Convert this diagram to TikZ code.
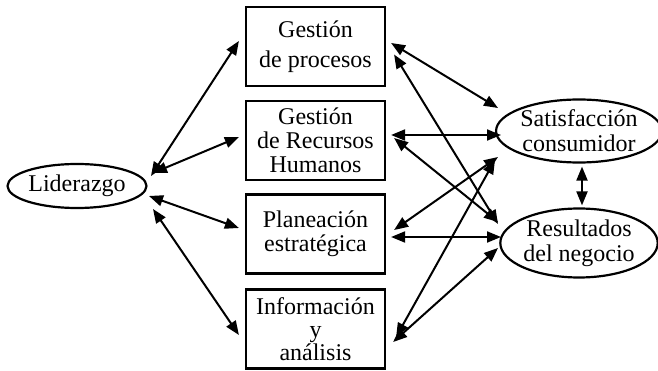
\documentclass[tikz,border=0pt]{standalone}
\usepackage{fontspec}
\setmainfont{Liberation Serif}
\usetikzlibrary{shapes.geometric,arrows.meta,calc}
\tikzset{
  boxnode/.style={draw, line width=2.2pt, rectangle, minimum width=139pt, minimum height=79pt, inner sep=0pt, align=center, font=\fontsize{24}{24}\selectfont},
  ellnode/.style={draw, line width=2.2pt, ellipse, inner sep=0pt, align=center, font=\fontsize{24}{25}\selectfont},
  link/.style={line width=2pt, {Triangle[length=14pt,width=11pt]}-{Triangle[length=14pt,width=11pt]}}
}
\begin{document}
\begin{tikzpicture}[x=1pt,y=-1pt]
\useasboundingbox (0,0) rectangle (658,371);
\node[ellnode, minimum width=139pt, minimum height=44pt] (lid) at (77,186) {Liderazgo};
\node[boxnode] (b1) at (315.5,46.5) {Gestión\\[6pt]de procesos};
\node[boxnode] (b2) at (315.5,140.5) {Gestión\\de Recursos\\Humanos};
\node[boxnode] (b3) at (315.5,234) {Planeación\\estratégica};
\node[boxnode, font=\fontsize{24}{23}\selectfont] (b4) at (315.5,329) {Información\\y\\análisis};
\node[ellnode, minimum width=157pt, minimum height=63pt] (sat) at (579,131) {Satisfacción\\consumidor};
\node[ellnode, minimum width=157pt, minimum height=69pt] (res) at (579,243) {Resultados\\del negocio};
% left side
\draw[link] ($(lid.center)+(74,-10)$) -- ($(b1.west)+(-6,-5.5)$);
\draw[link] ($(lid.center)+(76,-13)$) -- ($(b2.west)+(-6,-3.5)$);
\draw[link] ($(lid.center)+(72,10)$) -- ($(b3.west)+(-6,-6)$);
\draw[link] ($(lid.center)+(76,23)$) -- ($(b4.west)+(-6,6)$);
% right side
\draw[link] ($(b1.east)+(5,-3.5)$) -- ($(sat.center)+(-81,-23)$);
\draw[link] ($(b1.east)+(8,8)$) -- ($(res.center)+(-81,-19)$);
\draw[link] ($(b2.east)+(5,-5.5)$) -- ($(sat.center)+(-78,4)$);
\draw[link] ($(b2.east)+(8,-2.5)$) -- ($(res.center)+(-81,-21)$);
\draw[link] ($(b3.east)+(8,-4)$) -- ($(sat.center)+(-81,26)$);
\draw[link] ($(b3.east)+(5,3)$) -- ($(res.center)+(-78,-6)$);
\draw[link] ($(b4.east)+(10,8)$) -- ($(sat.center)+(-84,29)$);
\draw[link] ($(b4.east)+(7,13)$) -- ($(res.center)+(-81,5)$);
\draw[link] ($(sat.south)+(3,3)$) -- ($(res.north)+(3,-2)$);
\end{tikzpicture}
\end{document}
